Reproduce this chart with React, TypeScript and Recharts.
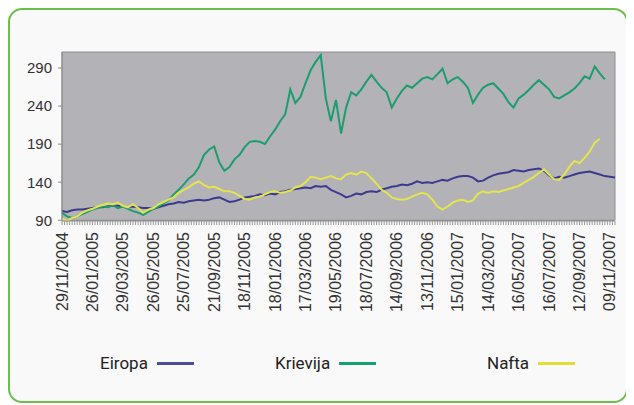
import React from 'react';
import { LineChart, Line, XAxis, YAxis, CartesianGrid, ReferenceArea, Legend } from 'recharts';

// x axis date labels (one every 6 points)
const tickLabels = [
  '29/11/2004', '26/01/2005', '29/03/2005', '26/05/2005', '25/07/2005', '21/09/2005',
  '18/11/2005', '18/01/2006', '17/03/2006', '19/05/2006', '18/07/2006', '14/09/2006',
  '13/11/2006', '15/01/2007', '14/03/2007', '16/05/2007', '16/07/2007', '12/09/2007',
  '09/11/2007',
];

const yTicks = [90, 140, 190, 240, 290];

const eiropa = [
  102, 101, 103, 104, 104, 105, 106, 107, 107, 108,
  109, 109, 108, 107, 108, 107, 106, 106, 105, 107,
  109, 111, 112, 114, 113, 115, 116, 117, 116, 117,
  119, 120, 117, 114, 115, 117, 120, 121, 122, 124,
  123, 125, 124, 127, 128, 130, 131, 132, 133, 132,
  135, 134, 135, 130, 127, 124, 120, 122, 125, 124,
  127, 128, 127, 130, 132, 134, 135, 137, 136, 138,
  141, 139, 140, 139, 141, 143, 142, 145, 147, 148,
  148, 146, 141, 142, 146, 149, 151, 152, 153, 156,
  155, 154, 156, 157, 158, 155, 149, 145, 147, 146,
  148, 150, 152, 153, 154, 152, 150, 148, 147, 146,
];

const krievija = [
  100, 95, 93, 95, 98, 101, 104, 106, 108, 107,
  110, 106, 108, 105, 102, 100, 97, 101, 105, 108,
  112, 116, 124, 130, 137, 145, 150, 160, 176, 183,
  187, 166, 155, 160, 170, 176, 186, 193, 194, 193,
  190, 200, 209, 220, 229, 262, 244, 252, 270, 287,
  298, 307, 250, 220, 248, 204, 238, 258, 254, 262,
  272, 281, 272, 264, 258, 238, 250, 260, 267, 264,
  270, 276, 278, 275, 282, 289, 270, 275, 278, 272,
  264, 244, 255, 264, 268, 270, 263, 256, 245, 238,
  250, 255, 261, 268, 274, 268, 262, 252, 250, 254,
  258, 263, 270, 279, 276, 292, 283, 275, null, null,
];

const nafta = [
  92, 89, 93, 95, 100, 103, 105, 108, 110, 112,
  111, 113, 109, 107, 111, 106, 100, 104, 106, 111,
  114, 117, 120, 126, 130, 133, 138, 141, 136, 133,
  134, 131, 128, 128, 126, 122, 118, 117, 120, 121,
  124, 127, 128, 126, 127, 129, 133, 135, 140, 147,
  146, 144, 146, 148, 145, 144, 150, 152, 150, 154,
  152, 145, 138, 130, 126, 120, 118, 117, 118, 121,
  124, 126, 124, 117, 108, 104, 108, 113, 116, 117,
  114, 116, 125, 128, 126, 128, 127, 129, 131, 133,
  135, 139, 143, 147, 152, 157, 150, 144, 143, 150,
  160, 168, 165, 172, 180, 192, 197, null, null, null,
];

const seriesNames = ['Eiropa', 'Krievija', 'Nafta'];

const data = eiropa.map((v, i) => ({
  i,
  Eiropa: v,
  Krievija: krievija[i],
  Nafta: nafta[i],
}));

const lastIndex = eiropa.length - 1;
const xTicks = Array.from({ length: lastIndex * 2 + 1 }, (_, k) => k / 2);

const lineColors: Record<string, string> = {
  Eiropa: '#3c3a8e',
  Krievija: '#1d9d6d',
  Nafta: '#e4e44e',
};
const legendColors: Record<string, string> = {
  Eiropa: '#4d4b9c',
  Krievija: '#12a46f',
  Nafta: '#e2df34',
};
const legendLeft: Record<string, number> = { Eiropa: 90, Krievija: 265, Nafta: 477 };

const font = '"Liberation Sans", Arial, sans-serif';

function DateTick(props: any) {
  const { x, y, payload } = props;
  const v = payload.value;
  if (v % 6 !== 0) return null;
  return (
    <text
      x={0}
      y={0}
      transform={`translate(${x},${y + 5}) rotate(-90)`}
      textAnchor="end"
      dominantBaseline="central"
      fontSize={16}
      fontFamily={font}
      fill="#333"
    >
      {tickLabels[v / 6]}
    </text>
  );
}

function LegendRow() {
  return (
    <div style={{ position: 'relative', width: 616, height: 40, fontFamily: 'Roboto, sans-serif', fontSize: 17, color: '#222' }}>
      {seriesNames.map((name) => (
        <div
          key={name}
          style={{ position: 'absolute', left: legendLeft[name], top: 0, height: 40, display: 'flex', alignItems: 'center' }}
        >
          <span>{name}</span>
          <span style={{ display: 'inline-block', width: 37, height: 3, marginLeft: 9, background: legendColors[name] }} />
        </div>
      ))}
    </div>
  );
}

export default function App() {
  return (
    <div
      style={{
        width: 616,
        height: 391,
        border: '2px solid #6cbf4b',
        borderRadius: 14,
        background: '#f9f9f9',
        overflow: 'hidden',
      }}
    >
      <LineChart width={616} height={391} data={data} margin={{ top: 42, right: 11, left: 12, bottom: 18 }}>
        <CartesianGrid fill="#b3b3b7" horizontal={false} vertical={false} />
        <ReferenceArea x1={0} x2={lastIndex} y1={90} y2={311} fill="none" stroke="#8e8e92" strokeWidth={1} />
        <XAxis
          dataKey="i"
          type="number"
          domain={[0, lastIndex]}
          ticks={xTicks}
          interval={0}
          height={122}
          tickSize={4}
          tick={<DateTick />}
          axisLine={{ stroke: '#8c8c8c' }}
          tickLine={{ stroke: '#9a9a9a' }}
        />
        <YAxis
          type="number"
          domain={[90, 311]}
          ticks={yTicks}
          width={40}
          tickSize={4}
          tickMargin={6}
          tick={{ fontSize: 15, fill: '#333', fontFamily: font }}
          axisLine={{ stroke: '#8c8c8c' }}
          tickLine={{ stroke: '#8c8c8c' }}
        />
        {seriesNames.map((name) => (
          <Line
            key={name}
            type="linear"
            dataKey={name}
            stroke={lineColors[name]}
            strokeWidth={2}
            dot={false}
            isAnimationActive={false}
          />
        ))}
        <Legend
          verticalAlign="bottom"
          height={40}
          content={() => <LegendRow />}
          wrapperStyle={{ left: 0, bottom: 18, width: 616, height: 40 }}
        />
      </LineChart>
    </div>
  );
}
